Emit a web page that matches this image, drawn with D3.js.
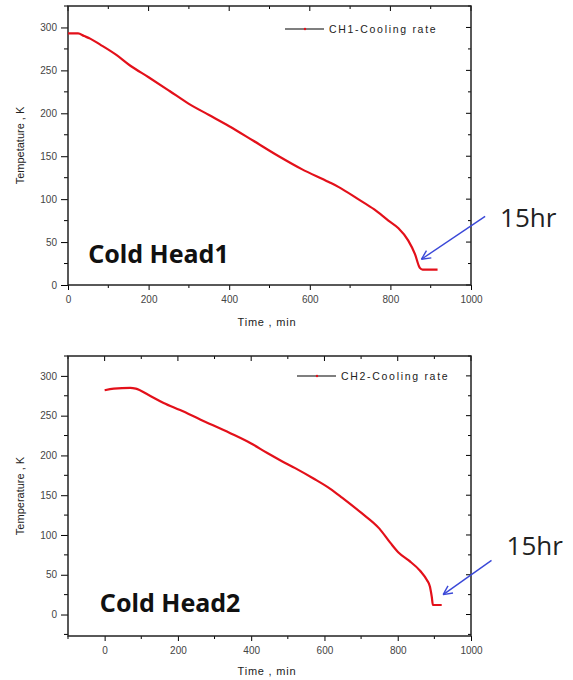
<!DOCTYPE html>
<html>
<head>
<meta charset="utf-8">
<script src="https://cdn.jsdelivr.net/npm/d3@7"></script>
<style>
  body { margin: 0; background: #fff; }
</style>
</head>
<body>
<div id="chart"></div>
<script>
// CH1 cooling curve (time in min, temperature in K)
var ch1Time = [0, 25, 40, 55, 80, 120, 153, 200, 252, 300, 350, 400, 460, 523, 580, 647, 672, 720, 760, 795, 820, 844, 861, 873, 880, 917];
var ch1Temp = [293, 293, 290, 287, 280, 268, 256, 242, 226, 211, 198, 185, 168, 150, 135, 120, 114, 100, 88, 75, 66, 52, 36, 20, 18, 18];

// CH2 cooling curve
var ch2Time = [0, 25, 70, 85, 120, 161, 206, 262, 343, 400, 444, 479, 520, 570, 616, 648, 700, 750, 780, 802, 830, 861, 880, 888, 893, 896, 920];
var ch2Temp = [282, 284, 285, 284, 276, 266, 257, 245, 228, 215, 203, 194, 184, 171, 158, 147, 128, 108, 90, 78, 68, 55, 43, 35, 22, 12, 12];

var xTicks1 = [0, 200, 400, 600, 800, 1000];
var xTicks2 = [0, 200, 400, 600, 800, 1000];
var yTicks = [0, 50, 100, 150, 200, 250, 300];

var panels = [
  { time: ch1Time, temp: ch1Temp, xDomain: [0, 1000], yDomain: [0, 325], xTicks: xTicks1,
    top: 6, bottom: 285, legend: 'CH1-Cooling rate', yLabel: 'Tempetature , K', name: 'Cold Head1',
    nameAt: [50, 26], arrow: [[1035, 80], [877, 30]], noteAt: [1072, 67], legendY: 29, xLabelY: 326 },
  { time: ch2Time, temp: ch2Temp, xDomain: [-100, 1000], yDomain: [-27, 325], xTicks: xTicks2,
    top: 356, bottom: 636, legend: 'CH2-Cooling rate', yLabel: 'Temperature , K', name: 'Cold Head2',
    nameAt: [-13, 3], arrow: [[1056, 68], [924, 25]], noteAt: [1097, 75], legendY: 376, xLabelY: 675 }
];

var left = 68, right = 471;
var sans = '"Liberation Sans", Arial, sans-serif';
var svg = d3.select('#chart').append('svg').attr('width', 573).attr('height', 680);

panels.forEach(function (p) {
  var x = d3.scaleLinear().domain(p.xDomain).range([left, right]);
  var y = d3.scaleLinear().domain(p.yDomain).range([p.bottom, p.top]);
  var g = svg.append('g');

  var xMinor = d3.range(p.xDomain[0] < 0 ? -100 : 0, 1001, 100);
  var yMinor = d3.range(p.yDomain[0] < 0 ? -25 : 0, 326, 25).filter(function (v) { return v % 50 != 0; });

  // minor ticks
  g.selectAll('.xminor').data(xMinor.filter(function (v) { return p.xTicks.indexOf(v) < 0; })).enter()
    .append('line').attr('x1', function (d) { return x(d); }).attr('x2', function (d) { return x(d); })
    .attr('y1', p.bottom).attr('y2', p.bottom + 3).attr('stroke', '#000');
  g.selectAll('.yminor').data(yMinor).enter()
    .append('line').attr('y1', function (d) { return y(d); }).attr('y2', function (d) { return y(d); })
    .attr('x1', left - 4).attr('x2', left).attr('stroke', '#000');
  // mirrored ticks on top and right (inward)
  g.selectAll('.xtop').data(xMinor).enter()
    .append('line').attr('x1', function (d) { return x(d); }).attr('x2', function (d) { return x(d); })
    .attr('y1', p.top).attr('y2', function (d) { return p.top + (p.xTicks.indexOf(d) >= 0 ? 5 : 3); })
    .attr('stroke', '#000');
  g.selectAll('.yright').data(yTicks.concat(yMinor)).enter()
    .append('line').attr('y1', function (d) { return y(d); }).attr('y2', function (d) { return y(d); })
    .attr('x1', function (d) { return right - (d % 50 == 0 ? 5 : 3); }).attr('x2', right).attr('stroke', '#000');

  var xAxis = g.append('g').attr('transform', 'translate(0,' + p.bottom + ')')
    .call(d3.axisBottom(x).tickValues(p.xTicks).tickFormat(d3.format('d')).tickSize(5).tickPadding(6));
  var yAxis = g.append('g').attr('transform', 'translate(' + left + ',0)')
    .call(d3.axisLeft(y).tickValues(yTicks).tickSize(7).tickPadding(4));
  [xAxis, yAxis].forEach(function (a) {
    a.select('.domain').remove();
    a.selectAll('text').style('font-size', '10px').style('fill', '#444').style('font-family', sans);
  });

  g.append('rect').attr('x', left).attr('y', p.top).attr('width', right - left).attr('height', p.bottom - p.top)
    .attr('fill', 'none').attr('stroke', '#222').attr('stroke-width', 1.5);

  var pts = p.time.map(function (t, i) { return [t, p.temp[i]]; });
  g.append('path').datum(pts)
    .attr('d', d3.line().curve(d3.curveMonotoneX).x(function (d) { return x(d[0]); }).y(function (d) { return y(d[1]); }))
    .attr('fill', 'none').attr('stroke', '#e3101a').attr('stroke-width', 2.2);

  // legend
  var lx = p.legendY < 100 ? 285 : 297;
  g.append('line').attr('x1', lx).attr('x2', lx + 39).attr('y1', p.legendY).attr('y2', p.legendY)
    .attr('stroke', '#000').attr('stroke-width', 1.2);
  g.append('circle').attr('cx', lx + 20).attr('cy', p.legendY).attr('r', 1.2).attr('fill', '#e3101a');
  g.append('text').attr('x', lx + 44).attr('y', p.legendY + 4)
    .style('font-family', sans).style('font-size', '10.5px').style('letter-spacing', '1.7px')
    .style('fill', '#222').text(p.legend);

  g.append('text').attr('transform', 'translate(24,' + (p.top + p.bottom) / 2 + ') rotate(-90)')
    .attr('text-anchor', 'middle').style('font-family', sans).style('font-size', '11px')
    .style('fill', '#222').text(p.yLabel);
  g.append('text').attr('x', 267).attr('y', p.xLabelY).attr('text-anchor', 'middle')
    .style('font-family', sans).style('font-size', '11px').style('letter-spacing', '0.8px')
    .style('fill', '#222').text('Time , min');

  g.append('text').attr('x', x(p.nameAt[0])).attr('y', y(p.nameAt[1]))
    .style('font-family', '"Noto Sans", sans-serif').style('font-weight', 'bold').style('font-size', '25px')
    .style('fill', '#111').text(p.name);

  // 15hr arrow
  var a0 = [x(p.arrow[0][0]), y(p.arrow[0][1])], a1 = [x(p.arrow[1][0]), y(p.arrow[1][1])];
  var ang = Math.atan2(a1[1] - a0[1], a1[0] - a0[0]);
  g.append('line').attr('x1', a0[0]).attr('y1', a0[1]).attr('x2', a1[0]).attr('y2', a1[1])
    .attr('stroke', '#3a48d8').attr('stroke-width', 1.4);
  [0.45, -0.45].forEach(function (da) {
    g.append('line').attr('x1', a1[0]).attr('y1', a1[1])
      .attr('x2', a1[0] - 10 * Math.cos(ang + da)).attr('y2', a1[1] - 10 * Math.sin(ang + da))
      .attr('stroke', '#3a48d8').attr('stroke-width', 1.4);
  });
  g.append('text').attr('x', x(p.noteAt[0])).attr('y', y(p.noteAt[1]))
    .style('font-family', '"Open Sans", sans-serif').style('font-size', '26px').style('fill', '#222').text('15hr');
});
</script>
</body>
</html>
